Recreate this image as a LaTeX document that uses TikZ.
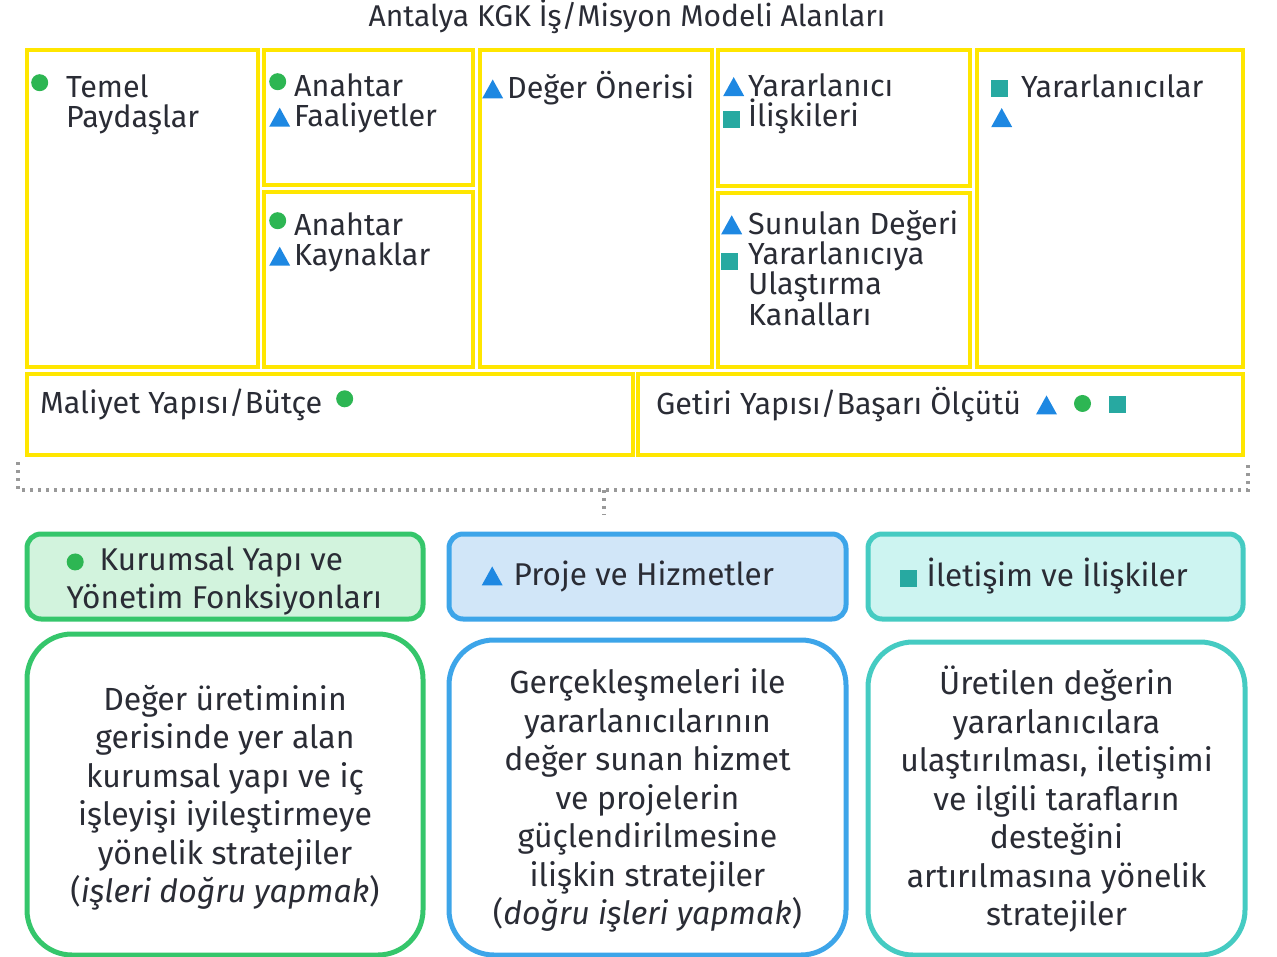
\documentclass[tikz,border=0pt]{standalone}
\usepackage{fontspec}
\setmainfont{Fira Sans}
\usetikzlibrary{fit,positioning}
\definecolor{ink}{HTML}{2A2C35}
\definecolor{cellline}{HTML}{FFE600}
\definecolor{bracketgray}{HTML}{999999}
\definecolor{kurumline}{HTML}{35C66B}
\definecolor{kurumfill}{HTML}{D2F3DD}
\definecolor{projeline}{HTML}{3DA5E9}
\definecolor{projefill}{HTML}{D1E6F8}
\definecolor{iletline}{HTML}{45CBC2}
\definecolor{iletfill}{HTML}{CDF4F1}
\definecolor{mkgreen}{HTML}{2DB653}
\definecolor{mkblue}{HTML}{1E88E2}
\definecolor{mkteal}{HTML}{27A9A1}

% small markers set inline with the text
\newcommand{\gdot}{\tikz[baseline=0pt,x=1pt,y=1pt]\fill[mkgreen] (8.5,15) circle (8.5);}
\newcommand{\btri}{\tikz[baseline=0pt,x=1pt,y=1pt]\fill[mkblue] (0,0) -- (21,0) -- (10.5,19) -- cycle;}
\newcommand{\tsq}{\tikz[baseline=0pt,x=1pt,y=1pt]\fill[mkteal] (0,0) rectangle (17,17);}
\newcommand{\ico}[2][25pt]{\makebox[#1][l]{#2}}

\begin{document}
\begin{tikzpicture}[
  x=1pt, y=-1pt,
  text=ink,
  cell/.style={draw=cellline, line width=4pt, inner sep=0pt},
  celltext/.style={anchor=north west, align=left, inner sep=0pt,
    font=\fontsize{30.5}{30}\selectfont},
  head/.style={draw=#1line, fill=#1fill, line width=5pt,
    rounded corners=14pt, inner sep=0pt},
  headtext/.style={anchor=west, align=left, inner sep=0pt,
    font=\fontsize{31.5}{38}\selectfont},
  body/.style={draw=#1line, fill=white, line width=5pt,
    rounded corners=45pt, inner sep=0pt},
  bodytext/.style={align=center, inner sep=0pt,
    font=\fontsize{32}{38.5}\selectfont},
  bracket/.style={draw=bracketgray, line width=3.5pt, dash pattern=on 3pt off 5pt}
]
\useasboundingbox (0,0) rectangle (1277,957);

\node[font=\fontsize{30}{32}\selectfont] (title) at (627,17) {Antalya KGK İş/Misyon Modeli Alanları};

% Canvas cells
\node[cell, fit={(27,50) (258,367)}] (paydas) {};
\node[cell, fit={(264,50) (473,185)}] (faal) {};
\node[cell, fit={(264,192) (473,367)}] (kaynak) {};
\node[cell, fit={(480,50) (712,367)}] (deger) {};
\node[cell, fit={(718,50) (970,186)}] (iliski) {};
\node[cell, fit={(718,193) (970,367)}] (kanal) {};
\node[cell, fit={(977,50) (1243,367)}] (yarar) {};
\node[cell, fit={(27,374) (633,455)}] (maliyet) {};
\node[cell, fit={(638,374) (1243,455)}] (getiri) {};

\node[celltext] (paydasT) at ([shift={(6,26)}]paydas.north west) {\ico[35pt]{\gdot}Temel\\\ico[35pt]{}Paydaşlar};
\node[celltext] (faalT) at ([shift={(7,25)}]faal.north west) {\ico{\gdot}Anahtar\\\ico{\btri}Faaliyetler};
\node[celltext] (kaynakT) at ([shift={(7,22)}]kaynak.north west) {\ico{\gdot}Anahtar\\\ico{\btri}Kaynaklar};
\node[celltext] (degerT) at ([shift={(4,23)}]deger.north west) {\ico{\btri}Değer Önerisi};
\node[celltext] (iliskiT) at ([shift={(7,25)}]iliski.north west) {\ico{\btri}Yararlanıcı\\\ico{\raisebox{-2pt}{\tsq}}İlişkileri};
\node[celltext] (kanalT) at ([shift={(5,19)}]kanal.north west) {\ico[27pt]{\btri}Sunulan Değeri\\\ico[27pt]{\raisebox{-6pt}{\tsq}}Yararlanıcıya\\\ico[27pt]{}Ulaştırma\\\ico[27pt]{}Kanalları};
\node[celltext] (yararT) at ([shift={(16,26)}]yarar.north west) {\ico[30pt]{\tsq}Yararlanıcılar\\\ico[30pt]{\btri}};
\node[celltext] (maliyetT) at ([shift={(15,17)}]maliyet.north west) {Maliyet Yapısı/Bütçe\hspace{14pt}\gdot};
\node[celltext] (getiriT) at ([shift={(20,15)}]getiri.north west) {Getiri Yapısı/Başarı Ölçütü\hspace{15pt}\btri\hspace{17pt}\raisebox{-4pt}{\gdot}\hspace{18pt}\raisebox{1pt}{\tsq}};

% Dotted bracket under the canvas
\coordinate (brL) at (18,462);
\coordinate (brR) at (1248,462);
\coordinate (brM) at (604,490);
\coordinate (brT) at (604,515);
\draw[bracket] (brL) -- ++(0,28) -| (brR);
\draw[bracket] (brM) -- (brT);

% Strategy areas
\node[head=kurum, fit={(27,534) (423,619)}] (headK) {};
\node[head=proje, fit={(449,534) (846,619)}] (headP) {};
\node[head=ilet, fit={(868,534) (1243,619)}] (headI) {};
\node[body=kurum, fit={(27,634) (423,955)}] (bodyK) {};
\node[body=proje, fit={(449,640) (846,955)}] (bodyP) {};
\node[body=ilet, fit={(868,642) (1245,955)}] (bodyI) {};

\node[headtext] (headKT) at ([shift={(42pt,-5pt)}]headK.west) {\ico[33pt]{\raisebox{-6pt}{\gdot}}Kurumsal Yapı ve\\Yönetim Fonksiyonları};
\node[headtext] (headPT) at ([xshift=35pt]headP.west) {\ico[32pt]{\btri}Proje ve Hizmetler};
\node[headtext] (headIT) at ([xshift=34pt]headI.west) {\ico[27pt]{\tsq}İletişim ve İlişkiler};

\node[bodytext] (bodyKT) at ([yshift=-3pt]bodyK.center) {Değer üretiminin\\gerisinde yer alan\\kurumsal yapı ve iç\\işleyişi iyileştirmeye\\yönelik stratejiler\\(\textit{işleri doğru yapmak})};
\node[bodytext] (bodyPT) at ([yshift=-3pt]bodyP.center) {Gerçekleşmeleri ile\\yararlanıcılarının\\değer sunan hizmet\\ve projelerin\\güçlendirilmesine\\ilişkin stratejiler\\(\textit{doğru işleri yapmak})};
\node[bodytext] (bodyIT) at ([yshift=-1pt]bodyI.center) {Üretilen değerin\\yararlanıcılara\\ulaştırılması, iletişimi\\ve ilgili tarafların\\desteğini\\artırılmasına yönelik\\stratejiler};

\end{tikzpicture}
\end{document}
